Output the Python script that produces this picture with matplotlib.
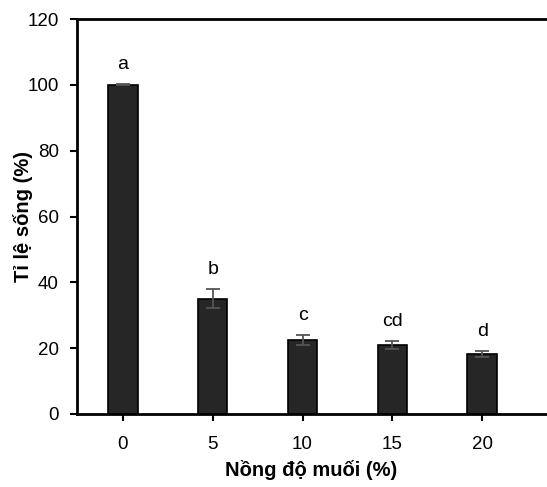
import numpy as np
import matplotlib.pyplot as plt

plt.switch_backend('Agg')
plt.rcParams['font.family'] = ['Liberation Sans', 'DejaVu Sans']

# Data
nong_do = ['0', '5', '10', '15', '20']
ti_le_song = [100.0, 35.0, 22.4, 21.0, 18.3]
sai_so = [0.2, 2.9, 1.5, 1.2, 0.9]
nhom = ['a', 'b', 'c', 'cd', 'd']

fig = plt.figure(figsize=(5.47, 4.87), dpi=100)
ax = fig.add_axes([77 / 547, 73 / 487, 469 / 547, 395 / 487])

x = np.arange(len(nong_do))
ax.bar(x, ti_le_song, width=0.33, color='#262626', edgecolor='black', linewidth=1.2,
       yerr=sai_so, error_kw=dict(ecolor='#555555', elinewidth=1.3, capsize=5, capthick=1.3))

for xi, v, e, lab in zip(x, ti_le_song, sai_so, nhom):
    ax.text(xi, v + e + 6.0, lab, ha='center', va='center', fontsize=14)

ax.set_xlim(-0.51, 4.71)
ax.set_ylim(0, 120)
ax.set_yticks(range(0, 121, 20))
ax.set_xticks(x)
ax.set_xticklabels(nong_do)
ax.tick_params(axis='both', labelsize=13.5, width=1.5, length=5, direction='out')
ax.tick_params(axis='x', pad=11)
ax.tick_params(axis='y', pad=8)

for side in ['left', 'bottom', 'top']:
    ax.spines[side].set_linewidth(2)
ax.spines['right'].set_visible(False)

ax.set_xlabel('Nồng độ muối (%)', fontsize=14.5, fontweight='bold', labelpad=5)
ax.set_ylabel('Tỉ lệ sống (%)', fontsize=14.5, fontweight='bold', labelpad=-4)

fig.savefig('out.png', dpi=100)
